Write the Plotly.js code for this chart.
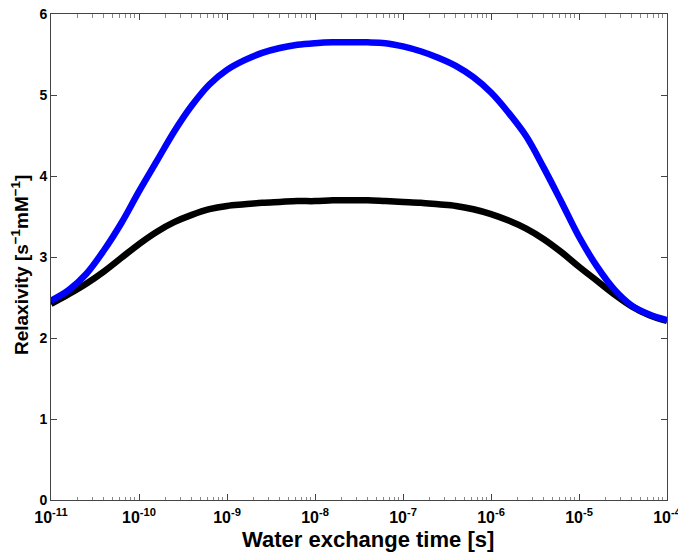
<!DOCTYPE html>
<html>
<head>
<meta charset="utf-8">
<script src="https://cdn.plot.ly/plotly-3.0.1.min.js"></script>
<style>html,body{margin:0;padding:0;background:#fff;}#chart{width:678px;height:554px;}</style>
</head>
<body>
<div id="chart"></div>
<script>
// Water exchange time [s], 0.2-decade steps from 1e-11 to 1e-4
var exchangeTime = [
  1e-11, 1.585e-11, 2.512e-11, 3.981e-11, 6.31e-11,
  1e-10, 1.585e-10, 2.512e-10, 3.981e-10, 6.31e-10,
  1e-9, 1.585e-9, 2.512e-9, 3.981e-9, 6.31e-9,
  1e-8, 1.585e-8, 2.512e-8, 3.981e-8, 6.31e-8,
  1e-7, 1.585e-7, 2.512e-7, 3.981e-7, 6.31e-7,
  1e-6, 1.585e-6, 2.512e-6, 3.981e-6, 6.31e-6,
  1e-5, 1.585e-5, 2.512e-5, 3.981e-5, 6.31e-5,
  1e-4
];
var blueRelaxivity = [
  2.46, 2.59, 2.79, 3.08, 3.42,
  3.81, 4.18, 4.55, 4.87, 5.13,
  5.31, 5.43, 5.52, 5.58, 5.62,
  5.64, 5.65, 5.65, 5.65, 5.64,
  5.60, 5.54, 5.46, 5.36, 5.22,
  5.03, 4.78, 4.49, 4.10, 3.68,
  3.25, 2.89, 2.60, 2.40, 2.29,
  2.22
];
var blackRelaxivity = [
  2.42, 2.54, 2.67, 2.82, 2.99,
  3.16, 3.31, 3.43, 3.52, 3.59,
  3.63, 3.65, 3.67, 3.68, 3.69,
  3.69, 3.70, 3.70, 3.70, 3.69,
  3.68, 3.67, 3.65, 3.63, 3.59,
  3.53, 3.45, 3.35, 3.22, 3.06,
  2.88, 2.71, 2.54, 2.39, 2.28,
  2.21
];
var xTickVals = [1e-11, 1e-10, 1e-9, 1e-8, 1e-7, 1e-6, 1e-5, 1e-4];
var xTickText = ['10<sup>-11</sup>', '10<sup>-10</sup>', '10<sup>-9</sup>', '10<sup>-8</sup>',
                 '10<sup>-7</sup>', '10<sup>-6</sup>', '10<sup>-5</sup>', '10<sup>-4</sup>'];
var yTickVals = [0, 1, 2, 3, 4, 5, 6];

var font = 'Arial, "Liberation Sans", sans-serif';

var traces = [
  {x: exchangeTime, y: blackRelaxivity, mode: 'lines', type: 'scatter',
   line: {color: '#000000', width: 6.5, shape: 'spline', smoothing: 1}, hoverinfo: 'skip'},
  {x: exchangeTime, y: blueRelaxivity, mode: 'lines', type: 'scatter',
   line: {color: '#0000ff', width: 6.5, shape: 'spline', smoothing: 1}, hoverinfo: 'skip'}
];

var layout = {
  width: 678, height: 554,
  margin: {l: 51, r: 11, t: 14, b: 54, pad: 0},
  paper_bgcolor: '#ffffff', plot_bgcolor: '#ffffff',
  showlegend: false,
  font: {family: font, color: '#000000'},
  xaxis: {
    type: 'log', range: [-11, -4],
    tickvals: xTickVals, ticktext: xTickText,
    ticks: 'inside', ticklen: 6, tickwidth: 1, tickcolor: '#444',
    minor: {dtick: 'D1', ticks: 'inside', ticklen: 3.5, tickwidth: 1, tickcolor: '#888', showgrid: false},
    showline: true, linecolor: '#444', linewidth: 1, mirror: 'ticks',
    showgrid: false, zeroline: false,
    ticklabeloverflow: 'allow', ticklabelstandoff: 3,
    tickfont: {family: font, size: 16, color: '#000', weight: 'bold'},
    title: {text: '<b>&nbsp;&nbsp;&nbsp;Water exchange time [s]</b>', font: {family: font, size: 22, color: '#000'}, standoff: 6}
  },
  yaxis: {
    range: [0, 6],
    tickvals: yTickVals,
    ticks: 'inside', ticklen: 6, tickwidth: 1, tickcolor: '#444',
    showline: true, linecolor: '#444', linewidth: 1, mirror: 'ticks',
    showgrid: false, zeroline: false,
    tickfont: {family: font, size: 14, color: '#000', weight: 'bold'},
    title: {text: '<b>Relaxivity [s<sup>−1</sup>mM<sup>−1</sup>]&nbsp;&nbsp;&nbsp;</b>', font: {family: font, size: 19, color: '#000'}, standoff: 5}
  }
};

Plotly.newPlot('chart', traces, layout, {staticPlot: true, displayModeBar: false});
</script>
</body>
</html>
